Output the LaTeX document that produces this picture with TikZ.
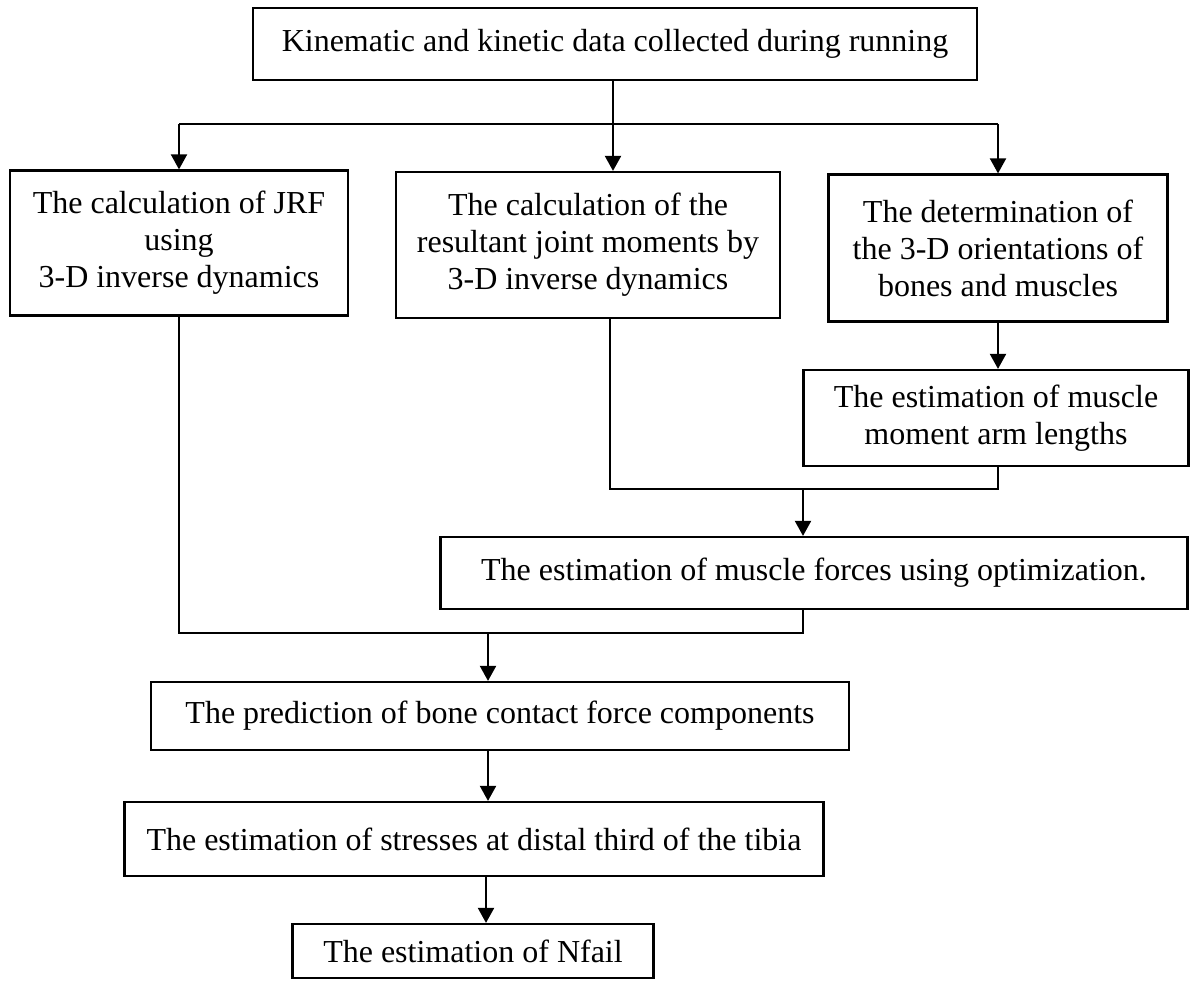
\documentclass[tikz,border=0pt]{standalone}
\usepackage{fontspec}
\setmainfont{Liberation Serif}
\usetikzlibrary{arrows.meta}

\begin{document}
\begin{tikzpicture}[x=1pt,y=-1pt,line width=2pt,
  box/.style={draw,line width=2.2pt,align=center,inner sep=0pt,
    font=\fontsize{32}{37}\selectfont},
  arr/.style={-{Triangle[width=16pt,length=15pt]}}]
  \useasboundingbox (0,0) rectangle (1193,981);
  \node[box,minimum width=724,minimum height=72] (data) at (615,44)
    {Kinematic and kinetic data collected during running};
  \node[box,minimum width=338,minimum height=145] (jrf) at (179,243)
    {The calculation of JRF\\using\\3-D inverse dynamics};
  \node[box,minimum width=384,minimum height=146] (mom) at (588,245)
    {The calculation of the\\resultant joint moments by\\3-D inverse dynamics};
  \node[box,minimum width=339,minimum height=147] (orient) at (998,248)
    {The determination of\\the 3-D orientations of\\bones and muscles};
  \node[box,minimum width=385,minimum height=96] (arm) at (996,418)
    {The estimation of muscle\\moment arm lengths};
  \node[box,minimum width=747,minimum height=72] (force) at (814,573)
    {The estimation of muscle forces using optimization.};
  \node[box,minimum width=698,minimum height=68] (bone) at (500,716)
    {The prediction of bone contact force components};
  \node[box,minimum width=699,minimum height=74] (stress) at (474,839)
    {The estimation of stresses at distal third of the tibia};
  \node[box,minimum width=361,minimum height=54] (nfail) at (473,951)
    {The estimation of Nfail};
  \coordinate (t0) at (613,124);
  \coordinate (j1) at (803,489);
  \coordinate (j2) at (488,633);
  \draw (jrf.north |- t0) -- (orient.north |- t0);
  \draw[arr] (data.south -| t0) -- (t0 |- mom.north);
  \draw[arr] (jrf.north |- t0) -- (jrf.north);
  \draw[arr] (orient.north |- t0) -- (orient.north);
  \draw[arr] (orient.south) -- (orient.south |- arm.north);
  \draw (mom.south -| 610,0) |- (j1) -| (orient.south |- arm.south);
  \draw[arr] (j1) -- (j1 |- force.north);
  \draw (jrf.south) |- (j2) -| (j1 |- force.south);
  \draw[arr] (j2) -- (j2 |- bone.north);
  \draw[arr] (bone.south -| j2) -- (j2 |- stress.north);
  \draw[arr] (stress.south -| 486,0) -- (486,0 |- nfail.north);
\end{tikzpicture}
\end{document}
